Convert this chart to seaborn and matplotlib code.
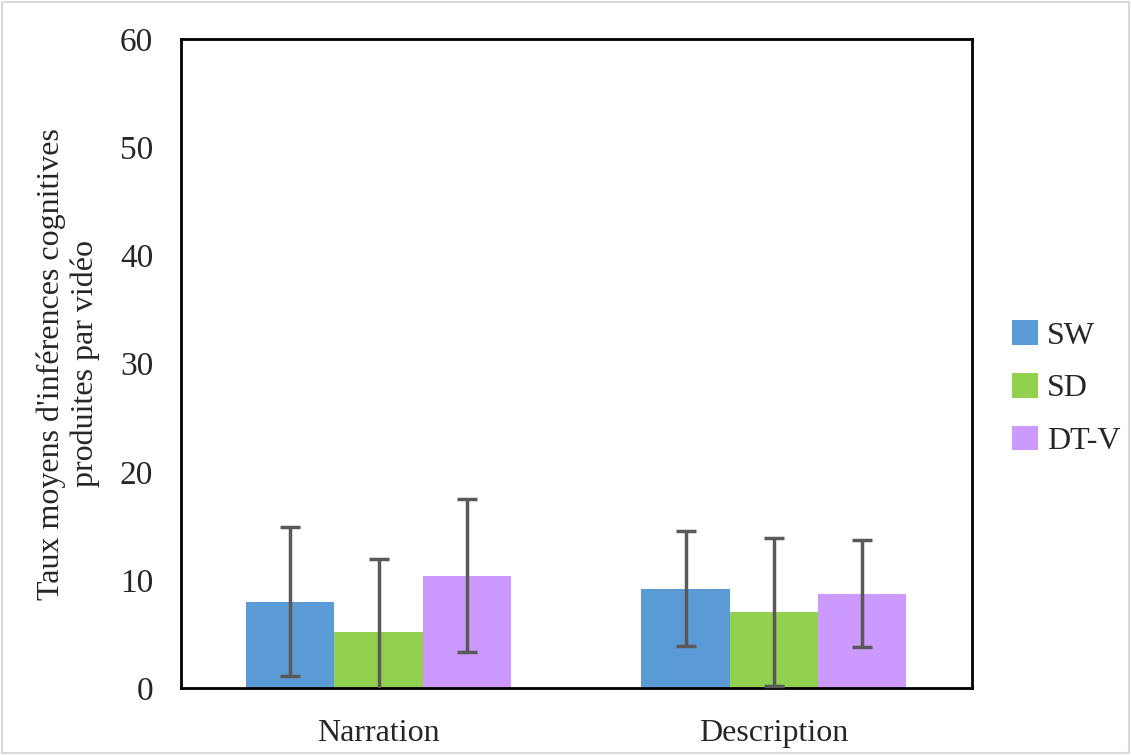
import matplotlib
matplotlib.use("Agg")
import matplotlib.pyplot as plt
import numpy as np
import pandas as pd
import seaborn as sns
from matplotlib.patches import Rectangle

conditions = ["Narration", "Description"]
groups = ["SW", "SD", "DT-V"]
means = {
    "SW": [8.0, 9.2],
    "SD": [5.2, 7.0],
    "DT-V": [10.4, 8.7],
}
errors = {
    "SW": [6.9, 5.3],
    "SD": [6.7, 6.85],
    "DT-V": [7.1, 4.95],
}
colors = ["#5B9BD5", "#92D050", "#CC99FF"]
yticks = [0, 10, 20, 30, 40, 50, 60]

rows = []
for g in groups:
    for i, c in enumerate(conditions):
        rows.append({"condition": c, "groupe": g, "moyenne": means[g][i], "erreur": errors[g][i]})
df = pd.DataFrame(rows)

sns.set_style("white")
plt.rcParams["font.family"] = ["Liberation Serif", "DejaVu Serif"]

fig = plt.figure(figsize=(11.31, 7.55), dpi=100)
ax = fig.add_axes([0.160, 0.0887, 0.699, 0.8593])

sns.barplot(data=df, x="condition", y="moyenne", hue="groupe", order=conditions,
            hue_order=groups, palette=colors, width=0.67, errorbar=None,
            saturation=1, linewidth=0, ax=ax)

# error bars on the bar centres drawn by seaborn
for container, g in zip(ax.containers, groups):
    xs = [p.get_x() + p.get_width() / 2 for p in container.patches]
    ys = [p.get_height() for p in container.patches]
    ax.errorbar(xs, ys, yerr=errors[g], fmt="none", ecolor="#595959",
                elinewidth=2.5, capsize=7, capthick=2.5, zorder=3)

ax.set_ylim(0, 60)
ax.set_xlim(-0.5, 1.5)
ax.set_yticks(yticks)
ax.set_xlabel("")
ax.set_ylabel("Taux moyens d'inférences cognitives\nproduites par vidéo", fontsize=23, labelpad=14)
ax.tick_params(axis="y", labelsize=24, length=0, pad=20)
ax.tick_params(axis="x", labelsize=23, length=0, pad=22)
for s in ax.spines.values():
    s.set_visible(True)
    s.set_color("black")
    s.set_linewidth(2)

ax.legend(loc="center left", bbox_to_anchor=(1.027, 0.462), frameon=False,
          fontsize=23, handlelength=0.8, handleheight=0.8, handletextpad=0.3,
          labelspacing=0.7, borderaxespad=0.2)

fig.patches.append(Rectangle((0.002, 0.002), 0.996, 0.996, transform=fig.transFigure,
                             fill=False, edgecolor="#d9d9d9", linewidth=1.5))

fig.savefig("out.png", dpi=100)
